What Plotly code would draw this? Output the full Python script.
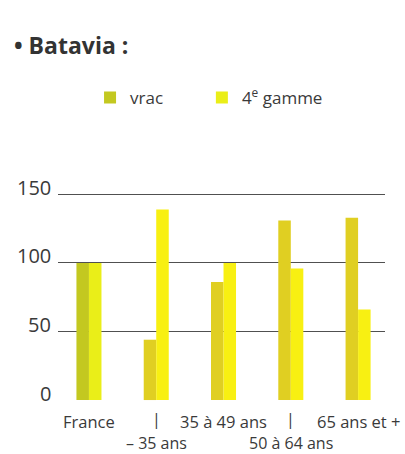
import plotly.graph_objects as go

categories = ["France", "– 35 ans", "35 à 49 ans", "50 à 64 ans", "65 ans et +"]
vrac = [100, 44, 86, 131, 133]
gamme4 = [100, 139, 100, 96, 66]
y_ticks = [0, 50, 100, 150]

vrac_colors = ["#c3c820", "#e0cf22", "#e0cf22", "#e0cf22", "#e0cf22"]
gamme_colors = ["#eaee18", "#f8f012", "#f8f012", "#f8f012", "#f8f012"]

FONT = "Open Sans"
TXT = "#3a3a3a"

fig = go.Figure()
fig.add_trace(go.Bar(x=categories, y=vrac, name="vrac", legend="legend",
                     marker=dict(color=vrac_colors, line=dict(width=0))))
fig.add_trace(go.Bar(x=categories, y=gamme4, name="4<sup>e</sup> gamme", legend="legend2",
                     marker=dict(color=gamme_colors, line=dict(width=0))))

# x labels on two staggered rows
for i, c in enumerate(categories):
    if i % 2 == 0:
        fig.add_annotation(x=c, y=0, xref="x", yref="paper", text=c, showarrow=False,
                           yanchor="middle", yshift=-20, font=dict(size=16.5, color=TXT, family=FONT))
    else:
        fig.add_annotation(x=c, y=0, xref="x", yref="paper", text="|", showarrow=False,
                           yanchor="middle", yshift=-18, font=dict(size=16, color=TXT, family=FONT))
        fig.add_annotation(x=c, y=0, xref="x", yref="paper", text=c, showarrow=False,
                           yanchor="middle", yshift=-42, font=dict(size=16, color=TXT, family=FONT))

# y tick labels sitting on their gridlines
for v in y_ticks:
    fig.add_annotation(x=0, y=v, xref="paper", yref="y", text=str(v), showarrow=False,
                       xanchor="right", yanchor="middle", xshift=-5, yshift=7,
                       font=dict(size=20, color=TXT, family=FONT))

fig.add_annotation(x=0, y=1, xref="paper", yref="paper", text="<b>• Batavia :</b>",
                   showarrow=False, xanchor="left", yanchor="middle",
                   xshift=-46, yshift=148, font=dict(size=23, color="#333333", family=FONT))

leg_common = dict(orientation="h", y=1.457, xanchor="left", yanchor="middle",
                  font=dict(size=17, color=TXT, family=FONT), itemwidth=30,
                  bgcolor="rgba(0,0,0,0)")

fig.update_layout(
    width=405, height=454,
    margin=dict(l=58, r=20, t=193, b=53),
    paper_bgcolor="white", plot_bgcolor="white",
    barmode="group", bargap=0.628, bargroupgap=0,
    font=dict(family=FONT, color=TXT),
    showlegend=True,
    legend=dict(x=0.098, **leg_common),
    legend2=dict(x=0.440, **leg_common),
    xaxis=dict(showticklabels=False, showgrid=False, zeroline=False, showline=False,
               range=[-0.46, 4.40], automargin=False),
    yaxis=dict(range=[-0.7, 151], tickvals=y_ticks, showgrid=True, gridcolor="#505050",
               gridwidth=1, zeroline=False, showline=False, ticks="", showticklabels=False,
               automargin=False),
)

fig.write_html("out.html", config={"displayModeBar": False},
               post_script="document.body.style.margin='0';document.body.style.overflow='hidden';")
